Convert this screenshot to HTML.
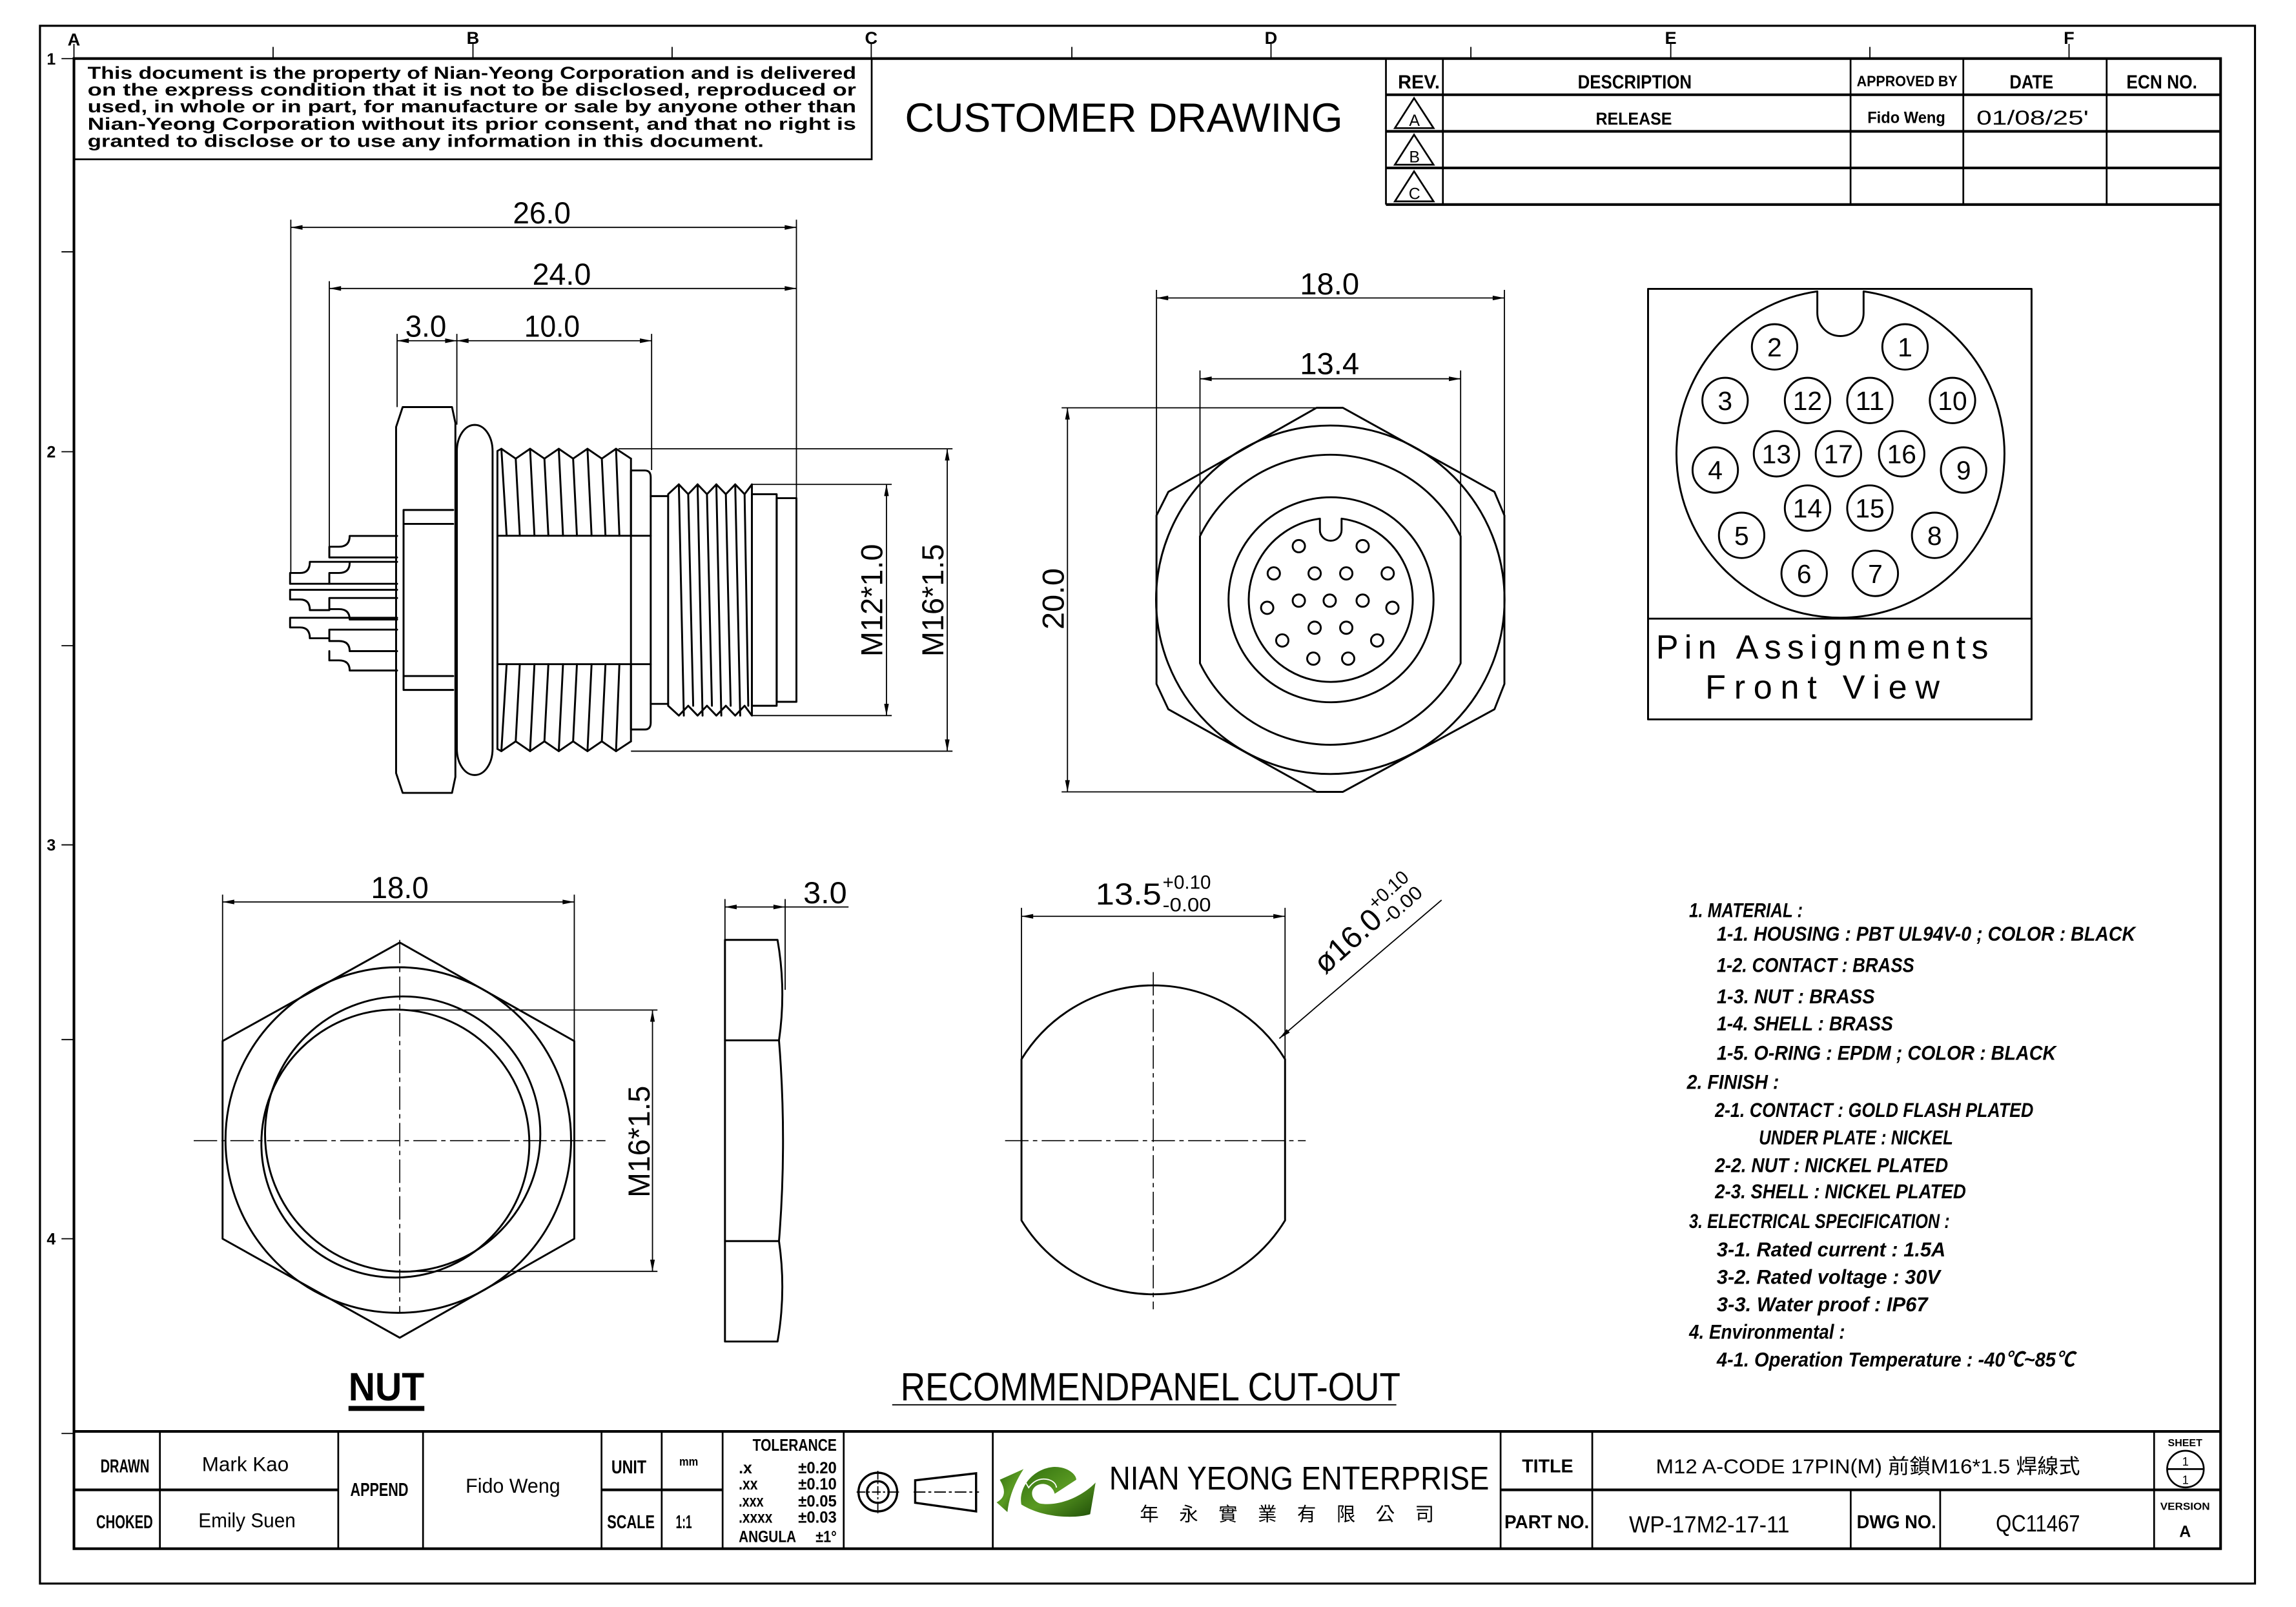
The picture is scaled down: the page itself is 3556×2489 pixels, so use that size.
<!DOCTYPE html>
<html>
<head>
<meta charset="utf-8">
<style>
html,body{margin:0;padding:0;background:#fff;overflow:hidden;}
svg{display:block;}
.o{fill:none;stroke:#000;stroke-width:1.3;stroke-linejoin:round;stroke-linecap:round;}
.d{fill:none;stroke:#000;stroke-width:0.8;}
.f{fill:none;stroke:#000;stroke-width:1.8;}
.th{fill:none;stroke:#000;stroke-width:1.2;}
.c{fill:none;stroke:#000;stroke-width:0.7;stroke-dasharray:16 3 3 3;}
text{font-family:"Liberation Sans","Noto Sans CJK TC",sans-serif;fill:#000;}
.b{font-weight:bold;}
.dim{font-size:21px;}
.n{font-size:14px;font-weight:bold;font-style:italic;}
</style>
</head>
<body>
<svg xmlns="http://www.w3.org/2000/svg" width="3556" height="2489" viewBox="0 0 1568 1097.5">
<defs>
<marker id="a" viewBox="0 0 10 4" refX="10" refY="2" markerUnits="userSpaceOnUse" markerWidth="9" markerHeight="3.2" orient="auto-start-reverse"><path d="M0,0L10,2L0,4z" fill="#000"/></marker>
<linearGradient id="g" x1="0" y1="0" x2="1" y2="1"><stop offset="0" stop-color="#2f6e0e"/><stop offset="0.5" stop-color="#5a9a22"/><stop offset="1" stop-color="#1f4e08"/></linearGradient>
</defs>
<rect width="1568" height="1097.5" fill="#fff"/>

<!-- FRAME -->
<rect x="27.3" y="17.6" width="1512.7" height="1063.9" fill="none" stroke="#000" stroke-width="1.4"/>
<path class="f" d="M50.5,40H1516.5V1057.7H50.5Z"/>
<!-- top zone ticks -->
<path class="d" d="M50.5,30V40M186.5,32V40M323,30V40M459,32V40M595,30V40M732,32V40M868,30V40M1004.5,32V40M1141,30V40M1277,32V40M1413,30V40"/>
<g class="b" font-size="12" text-anchor="middle">
<text x="50.5" y="31">A</text><text x="323" y="30">B</text><text x="595" y="30">C</text><text x="868" y="30">D</text><text x="1141" y="30">E</text><text x="1413" y="30">F</text>
</g>
<!-- left zone ticks -->
<path class="d" d="M42,40H50.5M42,172H50.5M42,308.5H50.5M42,441H50.5M42,577H50.5M42,710H50.5M42,846H50.5M42,979H50.5"/>
<g class="b" font-size="11" text-anchor="middle">
<text x="35" y="44">1</text><text x="35" y="312.5">2</text><text x="35" y="581">3</text><text x="35" y="850">4</text>
</g>

<!-- DISCLAIMER -->
<path class="th" d="M595.3,40V108.8H50.5"/>
<g class="b" font-size="12">
<text x="59.8" y="53.7" textLength="524.9" lengthAdjust="spacingAndGlyphs">This document is the property of Nian-Yeong Corporation and is delivered</text>
<text x="59.8" y="65.2" textLength="524.9" lengthAdjust="spacingAndGlyphs">on  the  express condition that it is not to be disclosed, reproduced or</text>
<text x="59.8" y="76.8" textLength="524.9" lengthAdjust="spacingAndGlyphs">used, in whole or in part, for manufacture or sale by anyone other than</text>
<text x="59.8" y="88.6" textLength="524.9" lengthAdjust="spacingAndGlyphs">Nian-Yeong Corporation without  its prior consent, and that  no right  is</text>
<text x="59.8" y="100.4" textLength="461.8" lengthAdjust="spacingAndGlyphs">granted to disclose or to use any information in this  document.</text>
</g>
<text x="618" y="90" font-size="28" textLength="299" lengthAdjust="spacingAndGlyphs">CUSTOMER  DRAWING</text>

<!-- REVISION TABLE -->
<path class="th" d="M946.5,39.7V139.7M985.4,39.7V139.7M1263.8,39.7V139.7M1340.8,39.7V139.7M1438.7,39.7V139.7"/>
<path class="f" d="M946.5,64.7H1515.7M946.5,89.7H1515.7M946.5,114.7H1515.7M946.5,139.7H1515.7"/>
<g class="b" font-size="13">
<text x="954.7" y="60.3" textLength="28.6" lengthAdjust="spacingAndGlyphs">REV.</text>
<text x="1077.5" y="60.3" textLength="77.8" lengthAdjust="spacingAndGlyphs">DESCRIPTION</text>
<text x="1268" y="58.8" font-size="10" textLength="68.8" lengthAdjust="spacingAndGlyphs">APPROVED BY</text>
<text x="1372.4" y="60.3" textLength="29.9" lengthAdjust="spacingAndGlyphs">DATE</text>
<text x="1452.2" y="60.3" textLength="48.3" lengthAdjust="spacingAndGlyphs">ECN NO.</text>
<text x="1089.8" y="85" font-size="12" textLength="52" lengthAdjust="spacingAndGlyphs">RELEASE</text>
<text x="1275.3" y="84" font-size="11" textLength="53.2" lengthAdjust="spacingAndGlyphs">Fido Weng</text>
</g>
<text x="1349.8" y="85" font-size="14" textLength="76.6" lengthAdjust="spacingAndGlyphs">01/08/25'</text>
<path class="th" d="M965.7,67L952.6,87.5H979Z M965.7,92L952.6,112.5H979Z M965.7,117L952.6,137.5H979Z"/>
<g font-size="11" text-anchor="middle">
<text x="966" y="86">A</text><text x="966" y="111">B</text><text x="966" y="136">C</text>
</g>

<!-- ================= SIDE VIEW ================= -->
<!-- dimensions -->
<path class="d" d="M198.6,150V391.3M224.9,192V373M543.9,150V340.2M271.2,228V278M312,228V290M445,228V321"/>
<path class="d" d="M198.6,155.3H543.9" marker-start="url(#a)" marker-end="url(#a)"/>
<path class="d" d="M224.9,197H543.9" marker-start="url(#a)" marker-end="url(#a)"/>
<path class="d" d="M271.2,232.7H312" marker-start="url(#a)" marker-end="url(#a)"/>
<path class="d" d="M312,232.7H445" marker-start="url(#a)" marker-end="url(#a)"/>
<g class="dim" text-anchor="middle">
<text x="370" y="152.6" textLength="39.5" lengthAdjust="spacingAndGlyphs">26.0</text>
<text x="383.6" y="194.4" textLength="40" lengthAdjust="spacingAndGlyphs">24.0</text>
<text x="290.8" y="230" textLength="28" lengthAdjust="spacingAndGlyphs">3.0</text>
<text x="377" y="230" textLength="38" lengthAdjust="spacingAndGlyphs">10.0</text>
</g>
<!-- M12 / M16 -->
<path class="d" d="M513.5,330.8H609M513.5,488.7H609M422.4,306.5H650.5M430.9,513H650.5"/>
<path class="d" d="M605.4,330.8V488.7" marker-start="url(#a)" marker-end="url(#a)"/>
<path class="d" d="M646.9,306.5V513" marker-start="url(#a)" marker-end="url(#a)"/>
<text class="dim" transform="translate(602.5,410) rotate(-90)" text-anchor="middle" textLength="77" lengthAdjust="spacingAndGlyphs">M12*1.0</text>
<text class="dim" transform="translate(644.3,410) rotate(-90)" text-anchor="middle" textLength="77" lengthAdjust="spacingAndGlyphs">M16*1.5</text>

<!-- nut -->
<path class="o" d="M275,278H308.7L311,288.9V530.6L308.7,541.5H275L270.5,528V291.6Z"/>
<path class="o" d="M275.6,348.3H309.5M275.6,357.8H309.5M275.6,461.7H309.5M275.6,471.2H309.5M275.6,348.3V471.2"/>
<!-- o-ring -->
<rect class="o" x="312" y="290.2" width="24.4" height="239.1" rx="12" ry="18"/>
<!-- rear thread -->
<path class="o" d="M339.7,511.5V308L342.4,306.5L352.2,313.2L362,306.5L371.8,313.2L381.6,306.5L391.4,313.2L401.2,306.5L411,313.2L420.7,306.5L430.9,313.2"/>
<path class="o" d="M339.7,511.5L342.4,513L352.2,506.3L362,513L371.8,506.3L381.6,513L391.4,506.3L401.2,513L411,506.3L420.7,513L430.9,506.3"/>
<path class="o" d="M342.4,306.5L346,365.9M352.2,313.2L355,365.9M362,306.5L365,365.9M371.8,313.2L374.5,365.9M381.6,306.5L384.5,365.9M391.4,313.2L394,365.9M401.2,306.5L404,365.9M411,313.2L413.5,365.9M420.7,306.5L423,365.9M430.9,313.2V365.9"/>
<path class="o" d="M346,453.6L342.4,513M355,453.6L352.2,506.3M365,453.6L362,513M374.5,453.6L371.8,506.3M384.5,453.6L381.6,513M394,453.6L391.4,506.3M404,453.6L401.2,513M413.5,453.6L411,506.3M423,453.6L420.7,513M430.9,453.6V506.3"/>
<path class="o" d="M339.7,365.9H444.4M339.7,453.6H444.4"/>
<!-- step ring -->
<path class="o" d="M430.9,321.3H440.4Q444.4,321.3 444.4,326V493.5Q444.4,498.2 440.4,498.2H430.9V321.3"/>
<!-- neck -->
<path class="o" d="M444.4,338.8H456.3M444.4,480.7H456.3"/>
<!-- front thread -->
<path class="o" d="M456.3,482V337.5L463.6,330.8L470,337.5L476.4,330.8L482.8,337.5L489.2,330.8L495.7,337.5L502.1,330.8L508.5,337.5L513.5,330.8V488.7L508.5,482L502.1,488.7L495.7,482L489.2,488.7L482.8,482L476.4,488.7L470,482L463.6,488.7L456.3,482"/>
<path class="o" d="M463.6,330.8L467,488.7M470,337.5L473.4,482M476.4,330.8L479.8,488.7M482.8,337.5L486.2,482M489.2,330.8L492.6,488.7M495.7,337.5L499,482M502.1,330.8L505.5,488.7M508.5,337.5L511,482"/>
<rect class="o" x="513.5" y="337.5" width="16.9" height="144.5"/>
<rect class="o" x="530.4" y="340.2" width="13.5" height="139.1"/>
<!-- pins -->
<path class="o" d="M271.2,366H238.8Q238.8,373.4 231.5,373.4H224.9V380.7H271.2"/>
<path class="o" d="M271.2,383.7H211.6Q211.6,391.3 205,391.3H198.1V398.7H271.2"/>
<path class="o" d="M238.8,384.4Q238.8,391.3 231.5,391.3H224.9V398.7"/>
<path class="o" d="M271.2,402.8H198.1V409.4H205Q211.6,409.4 211.6,416.7H224.9"/>
<path class="o" d="M271.2,408.4H224.9V416H231.5Q238.8,416 238.8,423.1H271.2"/>
<path class="o" d="M271.2,421.9H198.1V428.5H205Q211.6,428.5 211.6,435.9H224.9"/>
<path class="o" d="M271.2,430H224.9V437.8H231.5Q238.8,437.8 238.8,444.7H271.2"/>
<path class="o" d="M224.9,444.7V451H231.5Q238.8,451 238.8,457.9H271.2"/>

<!-- ================= FRONT VIEW ================= -->
<path class="d" d="M789.8,198V352M1027.4,198V352M819.5,253V366M997.5,253V366M725,278.5H899M725,540.8H899"/>
<path class="d" d="M789.8,203.5H1027.4" marker-start="url(#a)" marker-end="url(#a)"/>
<path class="d" d="M819.5,258.7H997.5" marker-start="url(#a)" marker-end="url(#a)"/>
<path class="d" d="M729,278.5V540.8" marker-start="url(#a)" marker-end="url(#a)"/>
<g class="dim" text-anchor="middle">
<text x="908" y="201" textLength="40.5" lengthAdjust="spacingAndGlyphs">18.0</text>
<text x="908" y="255.5" textLength="40.5" lengthAdjust="spacingAndGlyphs">13.4</text>
</g>
<text class="dim" transform="translate(726.5,409) rotate(-90)" text-anchor="middle" textLength="42" lengthAdjust="spacingAndGlyphs">20.0</text>
<path class="o" d="M899.1,278.5H917.1L1020.6,335.9L1027.4,352V467.1L1020.6,484.4L917.1,540.8H899.1L797.9,484.4L789.8,467.1V352L797.9,335.9Z"/>
<circle class="o" cx="908.5" cy="409.6" r="119"/>
<path class="o" d="M819.5,453L819.5,366.2A99,99 0 0 1 997.5,366.2L997.5,453A99,99 0 0 1 819.5,453Z"/>
<circle class="o" cx="909" cy="409.6" r="70"/>
<path class="o" d="M901.4,354.2A56,56 0 1 0 916.2,354.2V361.9A7.4,7.4 0 0 1 901.4,361.9Z"/>
<g class="o">
<circle cx="887" cy="373" r="4.2"/><circle cx="930.6" cy="373" r="4.2"/>
<circle cx="869.9" cy="391.6" r="4.2"/><circle cx="897.8" cy="391.6" r="4.2"/><circle cx="919.4" cy="391.6" r="4.2"/><circle cx="947.7" cy="391.6" r="4.2"/>
<circle cx="865.4" cy="415.1" r="4.2"/><circle cx="887" cy="410.2" r="4.2"/><circle cx="908.1" cy="410.2" r="4.2"/><circle cx="930.6" cy="410.2" r="4.2"/><circle cx="950.9" cy="415.1" r="4.2"/>
<circle cx="897.8" cy="428.7" r="4.2"/><circle cx="919.4" cy="428.7" r="4.2"/>
<circle cx="875.7" cy="437.4" r="4.2"/><circle cx="940.5" cy="437.4" r="4.2"/>
<circle cx="896.9" cy="449.8" r="4.2"/><circle cx="920.7" cy="449.8" r="4.2"/>
</g>

<!-- ================= PIN ASSIGNMENT ================= -->
<rect class="o" x="1125.5" y="197.3" width="261.9" height="294"/>
<path class="o" d="M1125.5,422.5H1387.4"/>
<path class="o" d="M1241.1,199A112,112 0 1 0 1272.7,199V213.7A15.8,15.8 0 0 1 1241.1,213.7Z"/>
<g class="o">
<circle cx="1211.9" cy="236.9" r="15.5"/><circle cx="1301" cy="236.9" r="15.5"/>
<circle cx="1178.1" cy="273.5" r="15.5"/><circle cx="1234.4" cy="273.5" r="15.5"/><circle cx="1277" cy="273.5" r="15.5"/><circle cx="1333.4" cy="273.5" r="15.5"/>
<circle cx="1171.4" cy="321" r="15.5"/><circle cx="1213.2" cy="309.9" r="15.5"/><circle cx="1255.5" cy="309.9" r="15.5"/><circle cx="1298.7" cy="309.9" r="15.5"/><circle cx="1341" cy="321" r="15.5"/>
<circle cx="1234.4" cy="347" r="15.5"/><circle cx="1277" cy="347" r="15.5"/>
<circle cx="1189.4" cy="365.6" r="15.5"/><circle cx="1321.2" cy="365.6" r="15.5"/>
<circle cx="1232.1" cy="391.6" r="15.5"/><circle cx="1280.7" cy="391.6" r="15.5"/>
</g>
<g font-size="18" text-anchor="middle">
<text x="1211.9" y="243.4">2</text><text x="1301" y="243.4">1</text>
<text x="1178.1" y="280">3</text><text x="1234.4" y="280" textLength="20" lengthAdjust="spacingAndGlyphs">12</text><text x="1277" y="280" textLength="20" lengthAdjust="spacingAndGlyphs">11</text><text x="1333.4" y="280" textLength="20" lengthAdjust="spacingAndGlyphs">10</text>
<text x="1171.4" y="327.5">4</text><text x="1213.2" y="316.4" textLength="20" lengthAdjust="spacingAndGlyphs">13</text><text x="1255.5" y="316.4" textLength="20" lengthAdjust="spacingAndGlyphs">17</text><text x="1298.7" y="316.4" textLength="20" lengthAdjust="spacingAndGlyphs">16</text><text x="1341" y="327.5">9</text>
<text x="1234.4" y="353.5" textLength="20" lengthAdjust="spacingAndGlyphs">14</text><text x="1277" y="353.5" textLength="20" lengthAdjust="spacingAndGlyphs">15</text>
<text x="1189.4" y="372.1">5</text><text x="1321.2" y="372.1">8</text>
<text x="1232.1" y="398.1">6</text><text x="1280.7" y="398.1">7</text>
</g>
<text x="1130.9" y="449.8" font-size="23" textLength="227" lengthAdjust="spacing">Pin Assignments</text>
<text x="1164.6" y="477" font-size="23" textLength="160" lengthAdjust="spacing">Front View</text>

<!-- ================= NUT FRONT ================= -->
<path class="d" d="M152,611V711M392.2,611V711"/>
<path class="d" d="M152,616H392.2" marker-start="url(#a)" marker-end="url(#a)"/>
<text class="dim" x="273" y="613.4" text-anchor="middle" textLength="39.4" lengthAdjust="spacingAndGlyphs">18.0</text>
<path class="o" d="M273,643.7L392.2,711V846L273,913.6L152,846V711Z"/>
<circle class="o" cx="272" cy="778.6" r="118"/>
<circle class="o" cx="275" cy="774.5" r="94"/>
<circle class="o" cx="270" cy="781" r="91.5"/>
<path class="c" d="M132.3,779H413.5M273,641.9V896.8"/>
<path class="d" d="M273,689.8H449M273,868.3H449"/>
<path class="d" d="M445.6,689.8V868.3" marker-start="url(#a)" marker-end="url(#a)"/>
<text class="dim" transform="translate(443.5,779.7) rotate(-90)" text-anchor="middle" textLength="76.4" lengthAdjust="spacingAndGlyphs">M16*1.5</text>

<!-- NUT SIDE -->
<path class="o" d="M495.1,641.9H531Q537,676 532,710.5Q537.5,779 532,847.6Q537,882 531,916.2H495.1Z"/>
<path class="o" d="M495.1,710.5H532M495.1,847.6H532"/>
<path class="d" d="M495.1,614V641.9M536.2,614V676"/>
<path class="d" d="M495.1,619.4H536.2" marker-start="url(#a)" marker-end="url(#a)"/>
<path class="d" d="M536.2,619.4H579.5"/>
<text class="dim" x="563.5" y="616.8" text-anchor="middle" textLength="29.8" lengthAdjust="spacingAndGlyphs">3.0</text>

<!-- CUT-OUT -->
<path class="o" d="M697.6,833.5V723.4A105.5,105.5 0 0 1 877.6,723.4V833.5A105.5,105.5 0 0 1 697.6,833.5Z"/>
<path class="c" d="M686.4,779H891.7M787.6,663.9V894.2"/>
<path class="d" d="M697.6,620V723.4M877.6,620V723.4"/>
<path class="d" d="M697.6,625.8H877.6" marker-start="url(#a)" marker-end="url(#a)"/>
<text class="dim" x="748.2" y="617.8" textLength="45" lengthAdjust="spacingAndGlyphs">13.5</text>
<text x="794" y="607" font-size="13" textLength="33" lengthAdjust="spacingAndGlyphs">+0.10</text>
<text x="794" y="622.5" font-size="13" textLength="33" lengthAdjust="spacingAndGlyphs">-0.00</text>
<path class="d" d="M873.7,709.2L984.5,614.7" marker-start="url(#a)"/>
<g transform="translate(905,666) rotate(-42)">
<text x="0" y="0" font-size="21" textLength="54" lengthAdjust="spacingAndGlyphs">ø16.0</text>
<text x="55" y="-10" font-size="13" textLength="32" lengthAdjust="spacingAndGlyphs">+0.10</text>
<text x="55" y="4" font-size="13" textLength="32" lengthAdjust="spacingAndGlyphs">-0.00</text>
</g>

<text x="238" y="956.3" font-size="27" class="b" textLength="51.8" lengthAdjust="spacingAndGlyphs">NUT</text>
<rect x="238" y="960.2" width="51.8" height="3.4" fill="#000"/>
<text x="615" y="956.3" font-size="27" textLength="341.4" lengthAdjust="spacingAndGlyphs">RECOMMENDPANEL  CUT-OUT</text>
<path class="d" d="M609.3,959.4H953.6"/>

<!-- ================= NOTES ================= -->
<g class="n">
<text x="1153.5" y="626.3" textLength="77.7" lengthAdjust="spacingAndGlyphs">1. MATERIAL :</text>
<text x="1172.4" y="642.5" textLength="285.9" lengthAdjust="spacingAndGlyphs">1-1. HOUSING : PBT UL94V-0 ; COLOR : BLACK</text>
<text x="1172.4" y="663.8" textLength="134.9" lengthAdjust="spacingAndGlyphs">1-2. CONTACT : BRASS</text>
<text x="1172.4" y="685.2" textLength="107.9" lengthAdjust="spacingAndGlyphs">1-3. NUT : BRASS</text>
<text x="1172.4" y="703.7" textLength="120.4" lengthAdjust="spacingAndGlyphs">1-4. SHELL : BRASS</text>
<text x="1172.4" y="723.9" textLength="231.7" lengthAdjust="spacingAndGlyphs">1-5. O-RING : EPDM ; COLOR : BLACK</text>
<text x="1152" y="743.7" textLength="63" lengthAdjust="spacingAndGlyphs">2. FINISH :</text>
<text x="1171.2" y="762.8" textLength="217.5" lengthAdjust="spacingAndGlyphs">2-1. CONTACT : GOLD FLASH PLATED</text>
<text x="1201.2" y="781.5" textLength="132.6" lengthAdjust="spacingAndGlyphs">UNDER PLATE : NICKEL</text>
<text x="1171.2" y="800.6" textLength="159.2" lengthAdjust="spacingAndGlyphs">2-2. NUT : NICKEL PLATED</text>
<text x="1171.2" y="818.4" textLength="171.4" lengthAdjust="spacingAndGlyphs">2-3. SHELL : NICKEL PLATED</text>
<text x="1153.5" y="838.6" textLength="178" lengthAdjust="spacingAndGlyphs">3. ELECTRICAL SPECIFICATION :</text>
<text x="1172.4" y="858" textLength="156.3" lengthAdjust="spacingAndGlyphs">3-1. Rated current : 1.5A</text>
<text x="1172.4" y="876.9" textLength="152.6" lengthAdjust="spacingAndGlyphs">3-2. Rated voltage : 30V</text>
<text x="1172.4" y="895.6" textLength="144.1" lengthAdjust="spacingAndGlyphs">3-3. Water proof : IP67</text>
<text x="1153.5" y="914.3" textLength="106.5" lengthAdjust="spacingAndGlyphs">4. Environmental :</text>
<text x="1172.4" y="933.2" textLength="244.4" lengthAdjust="spacingAndGlyphs">4-1. Operation Temperature : -40℃~85℃</text>
</g>

<!-- ================= TITLE BLOCK ================= -->
<path class="f" d="M50.5,977.6H1516.5"/>
<path class="f" d="M50.5,1017.5H231M410.8,1017.5H493.5M1024.8,1017.5H1516.5"/>
<path class="th" d="M109.2,977.6V1057.7M231,977.6V1057.7M288.9,977.6V1057.7M410.8,977.6V1057.7M451.9,977.6V1057.7M493.5,977.6V1057.7M576.2,977.6V1057.7M678,977.6V1057.7M1024.8,977.6V1057.7M1087.4,977.6V1057.7M1263.9,1017.5V1057.7M1325,1017.5V1057.7M1471.1,977.6V1057.7"/>
<g class="b" font-size="12.5">
<text x="68.6" y="1005.5" textLength="33.4" lengthAdjust="spacingAndGlyphs">DRAWN</text>
<text x="65.7" y="1043.7" textLength="38.7" lengthAdjust="spacingAndGlyphs">CHOKED</text>
<text x="239.2" y="1021.7" textLength="39.7" lengthAdjust="spacingAndGlyphs">APPEND</text>
<text x="417.5" y="1006.2" textLength="23.9" lengthAdjust="spacingAndGlyphs">UNIT</text>
<text x="414.6" y="1043.7" textLength="32.5" lengthAdjust="spacingAndGlyphs">SCALE</text>
<text x="463.9" y="1001" font-size="8" textLength="12.9" lengthAdjust="spacingAndGlyphs">mm</text>
<text x="461.5" y="1043.7" textLength="11" lengthAdjust="spacingAndGlyphs">1:1</text>
<text x="514" y="990.8" font-size="11.5" textLength="57.4" lengthAdjust="spacingAndGlyphs">TOLERANCE</text>
<text x="1039.4" y="1005.5" textLength="35" lengthAdjust="spacingAndGlyphs">TITLE</text>
<text x="1027.4" y="1043.7" textLength="57.9" lengthAdjust="spacingAndGlyphs">PART NO.</text>
<text x="1268" y="1043.7" textLength="54.3" lengthAdjust="spacingAndGlyphs">DWG NO.</text>
<text x="1480.5" y="987.8" font-size="7" textLength="23.5" lengthAdjust="spacingAndGlyphs">SHEET</text>
<text x="1475.3" y="1031.2" font-size="7" textLength="33.9" lengthAdjust="spacingAndGlyphs">VERSION</text>
</g>
<g font-size="11" class="b">
<text x="504.5" y="1006.2">.x</text><text x="545.1" y="1006.2" textLength="26.3" lengthAdjust="spacingAndGlyphs">±0.20</text>
<text x="504.5" y="1017.2" textLength="13" lengthAdjust="spacingAndGlyphs">.xx</text><text x="545.1" y="1017.2" textLength="26.3" lengthAdjust="spacingAndGlyphs">±0.10</text>
<text x="504.5" y="1029" textLength="17" lengthAdjust="spacingAndGlyphs">.xxx</text><text x="545.1" y="1029" textLength="26.3" lengthAdjust="spacingAndGlyphs">±0.05</text>
<text x="504.5" y="1040" textLength="23" lengthAdjust="spacingAndGlyphs">.xxxx</text><text x="545.1" y="1040" textLength="26.3" lengthAdjust="spacingAndGlyphs">±0.03</text>
<text x="504.5" y="1053.3" textLength="39.2" lengthAdjust="spacingAndGlyphs">ANGULA</text><text x="557" y="1053.3" textLength="14.4" lengthAdjust="spacingAndGlyphs">±1°</text>
</g>
<g font-size="14">
<text x="137.9" y="1004.7" textLength="59.3" lengthAdjust="spacingAndGlyphs">Mark Kao</text>
<text x="135.5" y="1043" textLength="66.4" lengthAdjust="spacingAndGlyphs">Emily Suen</text>
<text x="318" y="1019.4" textLength="64.6" lengthAdjust="spacingAndGlyphs">Fido Weng</text>
<text x="1130.8" y="1006.2" textLength="289.7" lengthAdjust="spacingAndGlyphs">M12  A-CODE  17PIN(M)  前鎖M16*1.5  焊線式</text>
</g>
<g font-size="16">
<text x="1112.5" y="1046.6" textLength="109.6" lengthAdjust="spacingAndGlyphs">WP-17M2-17-11</text>
<text x="1363" y="1046" textLength="57.5" lengthAdjust="spacingAndGlyphs">QC11467</text>
</g>
<text x="1492.3" y="1049.6" font-size="11" class="b" text-anchor="middle">A</text>
<circle class="th" cx="1492.5" cy="1003.3" r="12.5"/>
<path class="th" d="M1480,1003.3H1505"/>
<text x="1492.5" y="1001" font-size="8" text-anchor="middle">1</text>
<text x="1492.5" y="1013.5" font-size="8" text-anchor="middle">1</text>

<!-- symbols -->
<circle cx="599.5" cy="1019" r="13.2" fill="none" stroke="#000" stroke-width="1.5"/>
<circle cx="599.5" cy="1019" r="7.4" fill="none" stroke="#000" stroke-width="1.5"/>
<path d="M585,1019H614M599.5,1004.5V1033.5" stroke="#000" stroke-width="0.8" stroke-dasharray="6 1.5 1.5 1.5" fill="none"/>
<path d="M625,1011L666.6,1006.2V1032.2L625,1026.3Z" fill="none" stroke="#000" stroke-width="1.5"/>
<path d="M624,1019H668.6" stroke="#000" stroke-width="0.8" stroke-dasharray="8 2 2 2" fill="none"/>

<!-- logo -->
<path d="M682.8,1010.6L699,1003.3Q689.5,1018 688,1032.7L680.6,1026Q689.4,1021.6 682.8,1010.6Z" fill="url(#g)"/>
<path d="M697.5,1027.5C695.3,1015.8 705.6,1002.5 720.3,1001.8C729.1,1001.8 735,1006.9 735,1010.6L720.3,1020.2C718.8,1014.3 712.9,1012.1 708.5,1014.3C702.7,1017.2 704.1,1024.6 710,1026.8C721.8,1029 737.9,1023.1 748.2,1012.5L744.5,1034.1C735,1037.1 712.9,1037.1 697.5,1027.5Z" fill="url(#g)"/>
<path d="M699,1010L702.5,1016Q708,1008.5 716,1010.5Q721,1012 721.5,1016" fill="none" stroke="#fff" stroke-width="0.8"/>
<text x="757.5" y="1017.2" font-size="22.5" textLength="259.5" lengthAdjust="spacingAndGlyphs">NIAN YEONG ENTERPRISE</text>
<text x="778.4" y="1038.6" font-size="13" textLength="201" lengthAdjust="spacing">年永實業有限公司</text>
</svg>
</body>
</html>
